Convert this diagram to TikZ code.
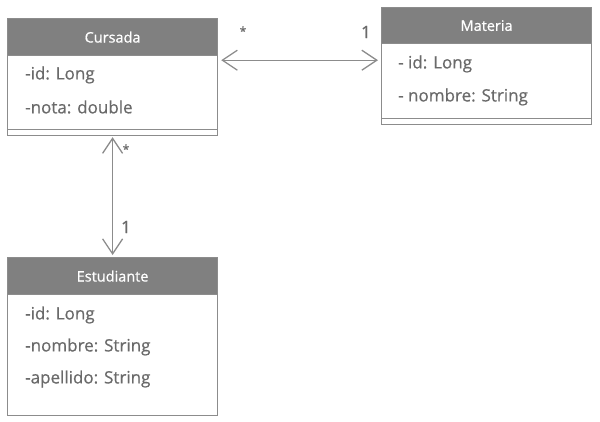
\documentclass[tikz,border=0pt]{standalone}
\usepackage{fontspec}
\setmainfont{Open Sans}
\newfontfamily\attrfont{Open Sans}[BoldFont={Open Sans}, BoldFeatures={FakeBold=0.7}]
\usepackage{tikz}
\usetikzlibrary{arrows.meta}
\definecolor{hdrgray}{HTML}{808080}
\definecolor{linegray}{HTML}{8C8C8C}
\definecolor{txtgray}{HTML}{6A6A6A}

\begin{document}
\begin{tikzpicture}[x=1pt,y=-1pt]
            \tikzstyle{every node}=[font=\attrfont\bfseries\fontsize{17}{20}\selectfont, text=txtgray]
            \tikzstyle{hdr}=[draw=linegray, line width=1.2pt, fill=hdrgray, text=white, anchor=north west, minimum width=210pt, inner sep=0pt, font=\attrfont\bfseries\fontsize{14.5}{17}\selectfont]
            \tikzstyle{body}=[draw=linegray, line width=1.2pt, anchor=north west, minimum width=210pt, inner sep=0pt]
            \tikzstyle{attr}=[anchor=west, inner sep=0pt]
            \tikzstyle{assoc}=[draw=linegray, line width=1.3pt, {Straight Barb[length=15pt,width=20pt]}-{Straight Barb[length=15pt,width=20pt]}]
            \useasboundingbox (0,0) rectangle (600,421);
            % Cursada
            \node [body, minimum height=80pt] (cursada) at (7,55) {};
            \node [hdr, minimum height=37pt] (cursadaH) at (7,18) {Cursada};
            \draw [draw=linegray, line width=1.2pt] ([yshift=7pt]cursada.south west) -- ([yshift=7pt]cursada.south east);
            \node [attr] (cursadaId) at (25,75) {-id: Long};
            \node [attr] (cursadaNota) at (25,107) {-nota: double};
            % Materia
            \node [body, minimum height=81pt] (materia) at (381,43) {};
            \node [hdr, minimum height=36pt] (materiaH) at (381,7) {Materia};
            \draw [draw=linegray, line width=1.2pt] ([yshift=7pt]materia.south west) -- ([yshift=7pt]materia.south east);
            \node [attr] (materiaId) at (398,64) {- id: Long};
            \node [attr] (materiaNombre) at (398,97) {- nombre: String};
            % Estudiante
            \node [body, minimum height=121pt] (estudiante) at (7,294) {};
            \node [hdr, minimum height=37pt] (estudianteH) at (7,257) {Estudiante};
            \node [attr] (estudianteId) at (25,315) {-id: Long};
            \node [attr] (estudianteNombre) at (25,347) {-nombre: String};
            \node [attr] (estudianteApellido) at (25,379) {-apellido: String};
            % asociaciones
            \draw [assoc] ([xshift=3pt,yshift=-4pt]cursadaH.south east) -- ([xshift=-3pt,yshift=-16pt]materiaH.south west);
            \draw [assoc] ([yshift=-1pt]cursada.south) -- ([yshift=2pt]estudianteH.north);
            \node [font=\attrfont\bfseries\fontsize{12}{14}\selectfont] (multCM) at (243,31) {*};
            \node (multMC) at (366,32) {1};
            \node [font=\attrfont\bfseries\fontsize{12}{14}\selectfont] (multCE) at (126,149) {*};
            \node (multEC) at (126,227) {1};
        \end{tikzpicture}
\end{document}
